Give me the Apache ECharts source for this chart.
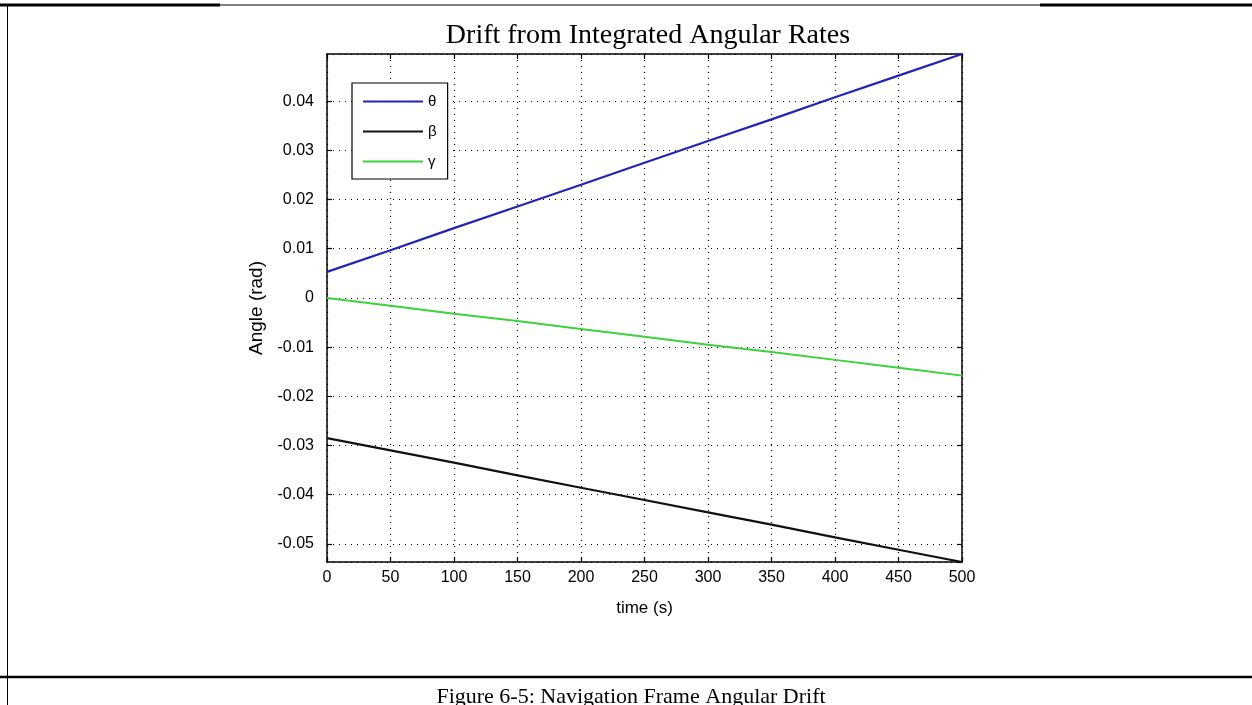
<!DOCTYPE html>
<html>
<head>
<meta charset="utf-8">
<script src="https://cdn.jsdelivr.net/npm/echarts@6/dist/echarts.min.js"></script>
<style>
html,body{margin:0;padding:0;background:#fff;}
#chart{width:1252px;height:705px;}
</style>
</head>
<body>
<div id="chart"></div>
<script>
// time (s)
const timeValues = [0, 50, 100, 150, 200, 250, 300, 350, 400, 450, 500];
// series values (rad)
const thetaValues = [0.0053, 0.0097, 0.0142, 0.0186, 0.0230, 0.0275, 0.0319, 0.0363, 0.0408, 0.0452, 0.0496];
const betaValues  = [-0.0285, -0.0310, -0.0335, -0.0361, -0.0386, -0.0411, -0.0436, -0.0461, -0.0487, -0.0512, -0.0537];
const gammaValues = [0, -0.0016, -0.0032, -0.0047, -0.0063, -0.0079, -0.0095, -0.0110, -0.0126, -0.0142, -0.0158];
const seriesNames = ['\u03b8', '\u03b2', '\u03b3'];
const titleText = 'Drift from Integrated Angular Rates';
const captionText = 'Figure 6-5: Navigation Frame Angular Drift';
const xName = 'time (s)';
const yName = 'Angle (rad)';

const pair = (xs, ys) => xs.map((x, i) => [x, ys[i]]);

const chart = echarts.init(document.getElementById('chart'), null, {renderer: 'canvas'});
const sans = 'Liberation Sans, Arial, sans-serif';
const serif = 'Liberation Serif, Times New Roman, serif';
const dotted = {type: [1, 5], color: '#000', width: 1.2};

const baseX = {
  type: 'value', min: 0, max: 500, interval: 50,
  axisLine: {show: true, onZero: false, lineStyle: {color: '#000', width: 1.5}},
  axisTick: {show: true, inside: true, length: 5, lineStyle: {color: '#000', width: 1.2}},
  splitLine: {show: false}
};
const baseY = {
  type: 'value', min: -0.0537, max: 0.0496, splitNumber: 10,
  minInterval: 0.01, maxInterval: 0.01,
  axisLine: {show: true, onZero: false, lineStyle: {color: '#000', width: 1.5}},
  axisTick: {show: true, inside: true, length: 5, lineStyle: {color: '#000', width: 1.2}},
  splitLine: {show: false}
};

const lineIcon = 'path://M0,0H60V2H0Z';

chart.setOption({
  animation: false,
  backgroundColor: '#fff',
  title: [
    {text: titleText, left: 643, top: 17, textAlign: 'center',
     textStyle: {fontFamily: serif, fontSize: 28, fontWeight: 'normal', color: '#000'}},
    {text: captionText, left: 626, top: 681, textAlign: 'center',
     textStyle: {fontFamily: serif, fontSize: 22, fontWeight: 'normal', color: '#000'}}
  ],
  grid: {left: 327, right: 290, top: 54, bottom: 143, containLabel: false},
  legend: {
    orient: 'vertical', left: 352, top: 83,
    data: seriesNames.map(n => ({name: n, icon: lineIcon})),
    itemWidth: 60, itemHeight: 14, itemGap: 15,
    padding: [11, 11, 10, 11],
    borderColor: '#000', borderWidth: 1.2, backgroundColor: '#fff',
    textStyle: {fontFamily: sans, fontSize: 15, color: '#000'}
  },
  xAxis: [
    Object.assign({}, baseX, {
      position: 'bottom',
      name: xName, nameLocation: 'middle', nameGap: 38,
      nameTextStyle: {fontFamily: sans, fontSize: 17, color: '#000'},
      axisLabel: {fontFamily: sans, fontSize: 16, color: '#000', margin: 8},
      splitLine: {show: true, lineStyle: dotted}
    }),
    Object.assign({}, baseX, {position: 'top', axisLabel: {show: false}})
  ],
  yAxis: [
    Object.assign({}, baseY, {
      position: 'left',
      name: yName, nameLocation: 'middle', nameGap: 56,
      nameTextStyle: {fontFamily: sans, fontSize: 19, color: '#000'},
      axisLabel: {fontFamily: sans, fontSize: 16, color: '#000', margin: 13,
        showMinLabel: false, showMaxLabel: false,
        formatter: v => String(+v.toFixed(2))},
      splitLine: {show: true, lineStyle: dotted}
    }),
    Object.assign({}, baseY, {position: 'right', axisLabel: {show: false}})
  ],
  series: [
    {name: seriesNames[0], type: 'line', symbol: 'none', data: pair(timeValues, thetaValues),
     lineStyle: {color: '#2424b4', width: 2.2}, itemStyle: {color: '#2424b4'}, z: 3},
    {name: seriesNames[1], type: 'line', symbol: 'none', data: pair(timeValues, betaValues),
     lineStyle: {color: '#111111', width: 2.2}, itemStyle: {color: '#111111'}, z: 3},
    {name: seriesNames[2], type: 'line', symbol: 'none', data: pair(timeValues, gammaValues),
     lineStyle: {color: '#3cd23c', width: 2}, itemStyle: {color: '#3cd23c'}, z: 3}
  ],
  graphic: [
    {type: 'line', shape: {x1: 0, y1: 5, x2: 220, y2: 5}, style: {stroke: '#000', lineWidth: 3}, silent: true},
    {type: 'line', shape: {x1: 220, y1: 5, x2: 1040, y2: 5}, style: {stroke: '#000', lineWidth: 1}, silent: true},
    {type: 'line', shape: {x1: 1040, y1: 5, x2: 1252, y2: 5}, style: {stroke: '#000', lineWidth: 3}, silent: true},
    {type: 'line', shape: {x1: 7.5, y1: 5, x2: 7.5, y2: 705}, style: {stroke: '#000', lineWidth: 1}, silent: true},
    {type: 'line', shape: {x1: 0, y1: 677, x2: 1252, y2: 677}, style: {stroke: '#000', lineWidth: 2.5}, silent: true}
  ]
});
</script>
</body>
</html>
